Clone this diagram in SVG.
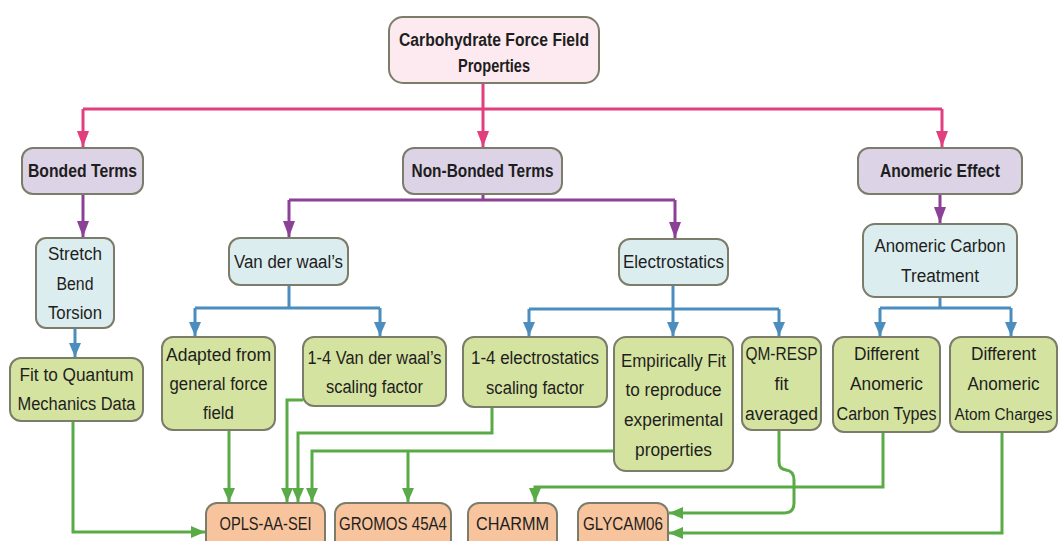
<svg xmlns="http://www.w3.org/2000/svg" width="1062" height="541" viewBox="0 0 1062 541">
<style>
.box{stroke:#7c7c6a;stroke-width:2}
.top{fill:#fceaf0}
.pur{fill:#ddd3e7}
.blu{fill:#dcedef}
.grn{fill:#d5e3a0}
.org{fill:#f7c49d}
text{font-family:"Liberation Sans",Arial,sans-serif;font-size:18px;fill:#1e1e1e;text-anchor:middle;dominant-baseline:central}
text.b{font-weight:bold;font-size:17.5px}
.c{fill:none;stroke-width:3}
.pk{stroke:#e13f80}
.pp{stroke:#8a4196}
.bl{stroke:#4b8dbf}
.gr{stroke:#5aab47}
</style>
<defs>
<marker id="aPk" viewBox="0 0 16 12" refX="16" refY="6" markerWidth="16" markerHeight="12" markerUnits="userSpaceOnUse" orient="auto"><path d="M0,0 L16,6 L0,12 z" fill="#e13f80"/></marker>
<marker id="aPp" viewBox="0 0 16 12" refX="16" refY="6" markerWidth="16" markerHeight="12" markerUnits="userSpaceOnUse" orient="auto"><path d="M0,0 L16,6 L0,12 z" fill="#8a4196"/></marker>
<marker id="aBl" viewBox="0 0 14 12" refX="14" refY="6" markerWidth="14" markerHeight="12" markerUnits="userSpaceOnUse" orient="auto"><path d="M0,0 L14,6 L0,12 z" fill="#4b8dbf"/></marker>
<marker id="aGr" viewBox="0 0 14 12" refX="14" refY="6" markerWidth="14" markerHeight="12" markerUnits="userSpaceOnUse" orient="auto"><path d="M0,0 L14,6 L0,12 z" fill="#5aab47"/></marker>
</defs>
<rect width="1062" height="541" fill="#ffffff"/>
<g id="connectors">
<path class="c pk" d="M483,83 V109 M83,109 H942"/>
<path class="c pk" d="M83,109 V147" marker-end="url(#aPk)"/>
<path class="c pk" d="M483,109 V147" marker-end="url(#aPk)"/>
<path class="c pk" d="M942,109 V147" marker-end="url(#aPk)"/>
<path class="c pp" d="M83,194 V237" marker-end="url(#aPp)"/>
<path class="c pp" d="M483,194 V200 M289,200 H675"/>
<path class="c pp" d="M289,200 V237" marker-end="url(#aPp)"/>
<path class="c pp" d="M675,200 V238" marker-end="url(#aPp)"/>
<path class="c pp" d="M940,194 V223" marker-end="url(#aPp)"/>
<path class="c bl" d="M75,328 V357" marker-end="url(#aBl)"/>
<path class="c bl" d="M289,285 V308 M195,308 H380"/>
<path class="c bl" d="M195,308 V336" marker-end="url(#aBl)"/>
<path class="c bl" d="M380,308 V336" marker-end="url(#aBl)"/>
<path class="c bl" d="M673,285 V309 M529,309 H779"/>
<path class="c bl" d="M529,309 V336" marker-end="url(#aBl)"/>
<path class="c bl" d="M673,309 V336" marker-end="url(#aBl)"/>
<path class="c bl" d="M779,309 V336" marker-end="url(#aBl)"/>
<path class="c bl" d="M940,297 V308 M880,308 H1011"/>
<path class="c bl" d="M880,308 V336" marker-end="url(#aBl)"/>
<path class="c bl" d="M1011,308 V336" marker-end="url(#aBl)"/>
<path class="c gr" d="M73,421 V532 H205" marker-end="url(#aGr)"/>
<path class="c gr" d="M229,430 V502" marker-end="url(#aGr)"/>
<path class="c gr" d="M303,400 H287 V502" marker-end="url(#aGr)"/>
<path class="c gr" d="M492,407 V433 H298 V502" marker-end="url(#aGr)"/>
<path class="c gr" d="M614,451 H312 V502" marker-end="url(#aGr)"/>
<path class="c gr" d="M408,451 V502" marker-end="url(#aGr)"/>
<path class="c gr" d="M883,432 V487 H535 V502" marker-end="url(#aGr)"/>
<path class="c gr" d="M779,430 V462 Q779,469 786,470 Q794,471 794,480 V503 Q794,513 784,513 H669" marker-end="url(#aGr)"/>
<path class="c gr" d="M1002,432 V533 H669" marker-end="url(#aGr)"/>
</g>
<g id="n-root"><rect class="box top" x="389" y="17" width="210" height="66" rx="14"/><text class="b" x="494" y="40" textLength="190" lengthAdjust="spacingAndGlyphs">Carbohydrate Force Field</text><text class="b" x="494" y="66" textLength="72" lengthAdjust="spacingAndGlyphs">Properties</text></g>
<g id="n-bonded"><rect class="box pur" x="22" y="148" width="121" height="46" rx="11"/><text class="b" x="82.5" y="171" textLength="109" lengthAdjust="spacingAndGlyphs">Bonded Terms</text></g>
<g id="n-nonbonded"><rect class="box pur" x="403" y="148" width="159" height="46" rx="11"/><text class="b" x="482.5" y="171" textLength="142" lengthAdjust="spacingAndGlyphs">Non-Bonded Terms</text></g>
<g id="n-anomeric"><rect class="box pur" x="858" y="148" width="164" height="46" rx="11"/><text class="b" x="940" y="171" textLength="120" lengthAdjust="spacingAndGlyphs">Anomeric Effect</text></g>
<g id="n-sbt"><rect class="box blu" x="36" y="238" width="78" height="90" rx="10"/><text x="75" y="254" textLength="54" lengthAdjust="spacingAndGlyphs">Stretch</text><text x="75" y="284" textLength="37" lengthAdjust="spacingAndGlyphs">Bend</text><text x="75" y="313" textLength="54" lengthAdjust="spacingAndGlyphs">Torsion</text></g>
<g id="n-vdw"><rect class="box blu" x="229" y="238" width="119" height="47" rx="11"/><text x="288.5" y="261.5" textLength="109" lengthAdjust="spacingAndGlyphs">Van der waal’s</text></g>
<g id="n-elec"><rect class="box blu" x="619" y="239" width="109" height="46" rx="11"/><text x="673.5" y="262" textLength="101" lengthAdjust="spacingAndGlyphs">Electrostatics</text></g>
<g id="n-act"><rect class="box blu" x="863" y="224" width="154" height="73" rx="12"/><text x="940" y="246" textLength="131" lengthAdjust="spacingAndGlyphs">Anomeric Carbon</text><text x="940" y="276" textLength="78" lengthAdjust="spacingAndGlyphs">Treatment</text></g>
<g id="n-fitqm"><rect class="box grn" x="10" y="358" width="133" height="63" rx="11"/><text x="76.5" y="375" textLength="114" lengthAdjust="spacingAndGlyphs">Fit to Quantum</text><text x="76.5" y="404" textLength="118" lengthAdjust="spacingAndGlyphs">Mechanics Data</text></g>
<g id="n-adapted"><rect class="box grn" x="162" y="337" width="113" height="93" rx="11"/><text x="218.5" y="355" textLength="105" lengthAdjust="spacingAndGlyphs">Adapted from</text><text x="218.5" y="384" textLength="98" lengthAdjust="spacingAndGlyphs">general force</text><text x="218.5" y="413" textLength="31" lengthAdjust="spacingAndGlyphs">field</text></g>
<g id="n-vdw14"><rect class="box grn" x="303" y="337" width="143" height="69" rx="11"/><text x="374.5" y="358" textLength="134" lengthAdjust="spacingAndGlyphs">1-4 Van der waal’s</text><text x="374.5" y="387" textLength="97" lengthAdjust="spacingAndGlyphs">scaling factor</text></g>
<g id="n-el14"><rect class="box grn" x="463" y="337" width="144" height="70" rx="11"/><text x="535" y="358" textLength="128" lengthAdjust="spacingAndGlyphs">1-4 electrostatics</text><text x="535" y="388" textLength="98" lengthAdjust="spacingAndGlyphs">scaling factor</text></g>
<g id="n-emp"><rect class="box grn" x="614" y="337" width="119" height="134" rx="12"/><text x="673.5" y="361" textLength="105" lengthAdjust="spacingAndGlyphs">Empirically Fit</text><text x="673.5" y="390" textLength="96" lengthAdjust="spacingAndGlyphs">to reproduce</text><text x="673.5" y="420" textLength="99" lengthAdjust="spacingAndGlyphs">experimental</text><text x="673.5" y="450" textLength="77" lengthAdjust="spacingAndGlyphs">properties</text></g>
<g id="n-qmresp"><rect class="box grn" x="742" y="337" width="79" height="93" rx="10"/><text x="781.5" y="354" textLength="72" lengthAdjust="spacingAndGlyphs">QM-RESP</text><text x="781.5" y="384">fit</text><text x="781.5" y="414" textLength="73" lengthAdjust="spacingAndGlyphs">averaged</text></g>
<g id="n-dact"><rect class="box grn" x="833" y="337" width="107" height="95" rx="11"/><text x="886.5" y="354" textLength="65" lengthAdjust="spacingAndGlyphs">Different</text><text x="886.5" y="384" textLength="73" lengthAdjust="spacingAndGlyphs">Anomeric</text><text x="886.5" y="414" textLength="100" lengthAdjust="spacingAndGlyphs">Carbon Types</text></g>
<g id="n-daac"><rect class="box grn" x="950" y="337" width="107" height="95" rx="11"/><text x="1003.5" y="354" textLength="65" lengthAdjust="spacingAndGlyphs">Different</text><text x="1003.5" y="384" textLength="72" lengthAdjust="spacingAndGlyphs">Anomeric</text><text x="1003.5" y="414" style="font-size:16px" textLength="98" lengthAdjust="spacingAndGlyphs">Atom Charges</text></g>
<g id="n-opls"><rect class="box org" x="206" y="503" width="119" height="48" rx="11"/><text x="265.5" y="524" textLength="92" lengthAdjust="spacingAndGlyphs">OPLS-AA-SEI</text></g>
<g id="n-gromos"><rect class="box org" x="335" y="503" width="116" height="48" rx="11"/><text x="393" y="524" textLength="108" lengthAdjust="spacingAndGlyphs">GROMOS 45A4</text></g>
<g id="n-charmm"><rect class="box org" x="468" y="503" width="89" height="48" rx="11"/><text x="512.5" y="524" textLength="73" lengthAdjust="spacingAndGlyphs">CHARMM</text></g>
<g id="n-glycam"><rect class="box org" x="578" y="503" width="90" height="48" rx="11"/><text x="623" y="524" textLength="80" lengthAdjust="spacingAndGlyphs">GLYCAM06</text></g>
</svg>
